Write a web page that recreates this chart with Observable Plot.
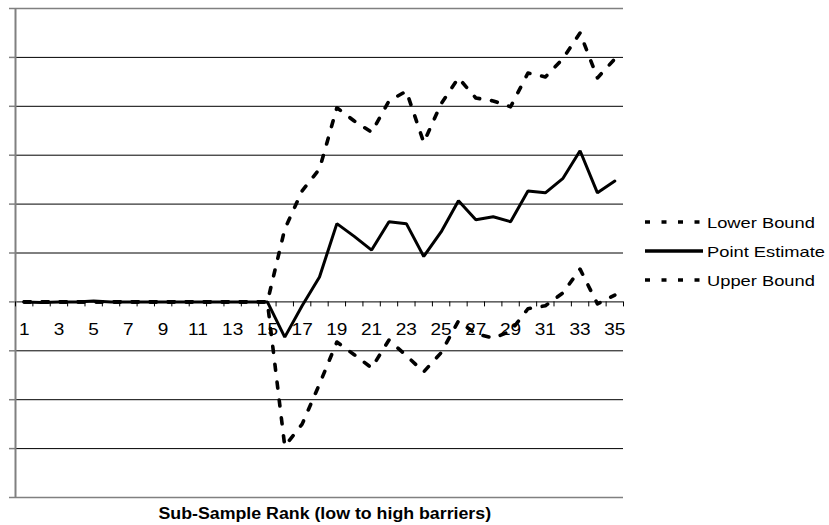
<!DOCTYPE html>
<html>
<head>
<meta charset="utf-8">
<script src="https://cdn.jsdelivr.net/npm/d3@7"></script>
<script src="https://cdn.jsdelivr.net/npm/@observablehq/plot@0.6"></script>
<style>
  html, body { margin: 0; padding: 0; background: #fff; }
  #wrap { position: relative; width: 829px; height: 525px; font-family: "Liberation Sans", Arial, sans-serif; }
  #title { position: absolute; left: 0; width: 650px; top: 505px; text-align: center; font-weight: bold; font-size: 16px; line-height: 18px; }
  #title span { display: inline-block; transform: scaleX(1.11); }
  .leg { position: absolute; left: 645px; height: 20px; display: flex; align-items: center; font-size: 15px; }
  .leg svg { width: 60px; height: 20px; display: block; }
  .leg span { display: inline-block; margin-left: 2px; transform: scaleX(1.22); transform-origin: left center; }
</style>
</head>
<body>
<div id="wrap"></div>
<script>
const ranks = [1,2,3,4,5,6,7,8,9,10,11,12,13,14,15,16,17,18,19,20,21,22,23,24,25,26,27,28,29,30,31,32,33,34,35];
const tickLabels = [1,3,5,7,9,11,13,15,17,19,21,23,25,27,29,31,33,35];
const pointEstimate = [0,-0.01,0,0,0.02,0,0,0,0,0,0,0,0,0,0,-0.72,-0.08,0.51,1.60,1.34,1.06,1.64,1.60,0.93,1.43,2.07,1.68,1.74,1.64,2.27,2.23,2.52,3.09,2.23,2.47];
const upperBound = [0,0,0,0,0,0,0,0,0,0,0,0,0,0,0,1.49,2.27,2.72,3.97,3.70,3.47,4.11,4.31,3.26,4.05,4.58,4.17,4.11,3.99,4.68,4.60,4.97,5.50,4.58,4.97];
const lowerBound = [0,0,0,0,0,0,0,0,0,0,0,0,0,0,0,-2.95,-2.50,-1.68,-0.82,-1.08,-1.35,-0.78,-1.10,-1.43,-1.04,-0.39,-0.65,-0.74,-0.60,-0.14,-0.08,0.18,0.67,-0.04,0.14];
const gridValues = [-4,-3,-2,-1,0,1,2,3,4,5,6];
const seriesNames = ["Lower Bound", "Point Estimate", "Upper Bound"];
const xTitle = "Sub-Sample Rank (low to high barriers)";

const boundaries = [0.5].concat(ranks.map(r => r + 0.5));
const innerGrid = gridValues.filter(v => v !== gridValues[0] && v !== gridValues[gridValues.length - 1]);
const outerGrid = [gridValues[0], gridValues[gridValues.length - 1]];
const dash = "6,12";

const chart = Plot.plot({
  width: 829,
  height: 525,
  marginLeft: 15,
  marginRight: 206,
  marginTop: 8,
  marginBottom: 28,
  style: { fontFamily: '"Liberation Sans", Arial, sans-serif', background: "#fff" },
  x: { domain: [0.5, 35.5], axis: null },
  y: { domain: [-4, 6], axis: null },
  marks: [
    Plot.ruleY(innerGrid, { stroke: "#000", strokeWidth: 1 }),
    Plot.ruleY(outerGrid, { stroke: "#808080", strokeWidth: 1.5 }),
    Plot.axisY({ ticks: gridValues, tickSize: 6, tickFormat: () => "", stroke: "#808080", strokeWidth: 1.5 }),
    Plot.ruleX([0.5], { stroke: "#808080", strokeWidth: 2 }),
    Plot.ruleX(boundaries, { x: d => d, y1: 0, y2: 0, insetBottom: -5, stroke: "#000", strokeWidth: 1 }),
    Plot.text(tickLabels, { x: d => d, y: 0, dy: 28, text: d => String(d), fontSize: 17, fill: "#000" }),
    Plot.lineY(pointEstimate, { x: ranks, y: d => d, stroke: "#000", strokeWidth: 3, strokeLinejoin: "miter" }),
    Plot.lineY(lowerBound, { x: ranks, y: d => d, stroke: "#000", strokeWidth: 3.6, strokeDasharray: dash }),
    Plot.lineY(upperBound, { x: ranks, y: d => d, stroke: "#000", strokeWidth: 3.6, strokeDasharray: dash })
  ]
});

const wrap = document.getElementById("wrap");
wrap.appendChild(chart);

// stretch tick labels slightly horizontally (the reference text is wide)
chart.querySelectorAll("text").forEach(t => {
  const w = t.getComputedTextLength();
  t.setAttribute("textLength", (w * 1.12).toFixed(1));
  t.setAttribute("lengthAdjust", "spacingAndGlyphs");
});

const title = document.createElement("div");
title.id = "title";
title.innerHTML = "<span>" + xTitle + "</span>";
wrap.appendChild(title);

const legendTops = [212, 241, 270];
seriesNames.forEach((name, i) => {
  const row = document.createElement("div");
  row.className = "leg";
  row.style.top = legendTops[i] + "px";
  const solid = name === "Point Estimate";
  row.innerHTML = '<svg viewBox="0 0 60 20"><line x1="0" y1="10" x2="58" y2="10" stroke="#000" stroke-width="' + (solid ? 3.5 : 3.5) + '"' + (solid ? '' : ' stroke-dasharray="5,11.5"') + '/></svg><span>' + name + '</span>';
  wrap.appendChild(row);
});
</script>
</body>
</html>
